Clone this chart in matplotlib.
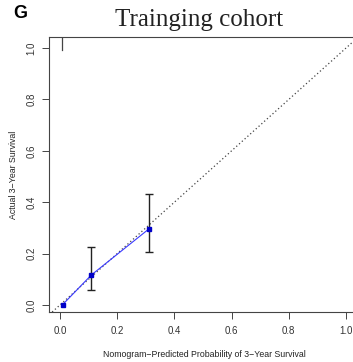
#!/usr/bin/env python3
"""
Calibration curve of the nomogram, training cohort (panel G).
"""

import matplotlib

matplotlib.use("Agg")

import matplotlib.pyplot as plt


# calibration groups: nomogram-predicted vs observed 3-year survival
predicted = [0.010, 0.110, 0.311]
observed = [0.002, 0.117, 0.296]
ci_low = [0.002, 0.060, 0.205]
ci_high = [0.002, 0.227, 0.432]

# spike of the predicted-risk distribution drawn from the top
spike_x = [0.006]

x_ticks = [0.0, 0.2, 0.4, 0.6, 0.8, 1.0]
y_ticks = [0.0, 0.2, 0.4, 0.6, 0.8, 1.0]

W, H = 353, 362


def main():
    plt.rcParams["font.family"] = ["Liberation Sans", "DejaVu Sans"]
    fig = plt.figure(figsize=(W / 100, H / 100), dpi=100)
    fig.patch.set_facecolor("white")

    # axes box in pixels (right edge runs past the figure, as in the original)
    left, right, top, bottom = 49, 360, 37, 312
    ax = fig.add_axes([left / W, (H - bottom) / H, (right - left) / W, (bottom - top) / H])
    ax.set_xlim(-0.038, 1.049)
    ax.set_ylim(-0.027, 1.043)

    for s in ax.spines.values():
        s.set_color("#444444")
        s.set_linewidth(0.8)

    # ideal line
    ax.axline((0, 0), (1, 1), color="#444444", linestyle=(0, (1, 2.0)), linewidth=0.9)

    # observed vs predicted
    ax.plot(predicted, observed, color="#3a3aff", linewidth=0.8, zorder=3)
    ax.plot(predicted, observed, linestyle="none", marker="s", markersize=3.2,
            color="#0000c8", zorder=4)
    err_lo = [o - l for o, l in zip(observed, ci_low)]
    err_hi = [h - o for o, h in zip(observed, ci_high)]
    ax.errorbar(predicted[1:], observed[1:], yerr=[err_lo[1:], err_hi[1:]],
                fmt="none", ecolor="#222222", elinewidth=1.0, capsize=3,
                capthick=1.0, zorder=2)

    for sx in spike_x:
        ax.plot([sx, sx], [1.043, 0.993], color="#444444", linewidth=0.9)

    ax.set_xticks(x_ticks)
    ax.set_yticks(y_ticks)
    ax.set_xticklabels([f"{t:.1f}" for t in x_ticks])
    ax.set_yticklabels([f"{t:.1f}" for t in y_ticks], rotation=90, va="center")
    ax.tick_params(axis="both", labelsize=7, length=5, width=0.7,
                   color="#444444", labelcolor="#333333", pad=5)
    ax.tick_params(axis="y", pad=4)

    ax.set_xlabel("Nomogram\u2212Predicted Probability of 3\u2212Year Survival",
                  fontsize=6.3, color="#222222", labelpad=10)
    ax.set_ylabel("Actual 3\u2212Year Survival", fontsize=6.3, color="#222222",
                  labelpad=6)

    fig.text(199 / W, 1 - 20 / H, "Trainging cohort", ha="center", va="center",
             fontsize=18, family=["Liberation Serif", "DejaVu Serif"], color="#222222")
    fig.text(20 / W, 1 - 13 / H, "G", ha="center", va="center", fontsize=13,
             fontweight="bold", color="black")

    fig.savefig("out.png", dpi=100, facecolor="white")
    plt.close(fig)


if __name__ == "__main__":
    main()
